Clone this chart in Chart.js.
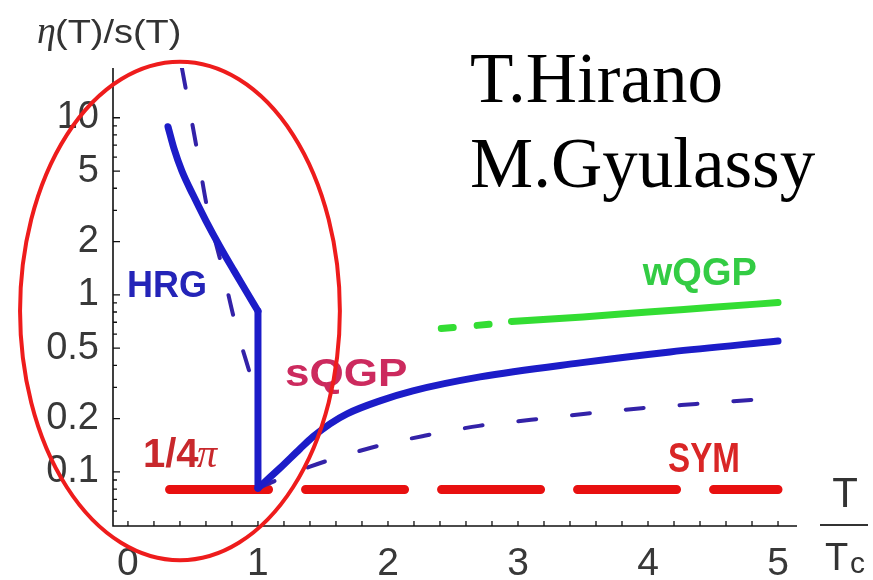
<!DOCTYPE html>
<html>
<head>
<meta charset="utf-8">
<script src="https://cdn.jsdelivr.net/npm/chart.js@4/dist/chart.umd.min.js"></script>
<style>
  html, body { margin: 0; padding: 0; background: #fff; }
  #wrap { width: 873px; height: 580px; }
</style>
</head>
<body>
<div id="wrap"><canvas id="chart" width="873" height="580"></canvas></div>
<script>
// eta/s as a function of T/Tc (log y axis)

// hadron resonance gas branch, then the drop at Tc
const hrgT   = [0.308, 0.354, 0.415, 0.50, 0.60, 0.708, 0.815, 0.908, 1.00];
const hrgEta = [8.9, 6.7, 5.0, 3.67, 2.62, 1.87, 1.37, 1.05, 0.81];
const dropT   = [1.0, 1.0];
const dropEta = [0.81, 0.081];

// strongly coupled QGP above Tc
const sqgpT   = [1.00, 1.169, 1.323, 1.423, 1.554, 1.685, 1.938, 2.192, 2.708, 3.477, 4.169, 5.00];
const sqgpEta = [0.081, 0.105, 0.135, 0.158, 0.187, 0.213, 0.252, 0.287, 0.344, 0.413, 0.476, 0.548];

// dashed blue curves (below / above Tc)
const hadT   = [0.415, 0.531, 0.608, 0.723, 0.823, 0.946];
const hadEta = [19.1, 6.6, 3.14, 1.44, 0.70, 0.344];
const pertT   = [1.0, 1.4, 1.87, 2.28, 2.7, 3.1, 3.52, 3.95, 4.37, 4.79, 5.0];
const pertEta = [0.081, 0.107, 0.137, 0.16, 0.182, 0.197, 0.213, 0.229, 0.242, 0.255, 0.262];

// weakly coupled QGP
const wqgpDashT   = [2.41, 2.86];
const wqgpDashEta = [0.645, 0.69];
const wqgpT   = [2.95, 3.5, 4.0, 4.5, 5.0];
const wqgpEta = [0.708, 0.75, 0.80, 0.85, 0.905];

// KSS bound 1/4pi
const kssT = [0.32, 5.0];
const KSS = 1 / (4 * Math.PI);

const xTickValues = [0, 1, 2, 3, 4, 5];
const yTickValues = [0.1, 0.2, 0.5, 1, 2, 5, 10];
const yMinorTicks = [0.06, 0.07, 0.08, 0.09, 0.3, 0.4, 0.6, 0.7, 0.8, 0.9, 3, 4, 6, 7, 8, 9];

const SANS = '"Liberation Sans", Arial, sans-serif';
const SERIF = '"Liberation Serif", "Times New Roman", serif';

function pts(xs, ys) {
  return xs.map((x, i) => ({ x, y: ys[i] }));
}

function line(data, color, width, extra) {
  return Object.assign({
    data, showLine: true, borderColor: color, borderWidth: width,
    pointRadius: 0, fill: false, borderCapStyle: 'round',
    cubicInterpolationMode: 'monotone'
  }, extra || {});
}

function drawText(ctx, str, x, y, font, color, sx) {
  ctx.save();
  ctx.font = font;
  ctx.fillStyle = color;
  ctx.textBaseline = 'alphabetic';
  ctx.textAlign = 'left';
  ctx.translate(x, y);
  ctx.scale(sx || 1, 1);
  ctx.fillText(str, 0, 0);
  ctx.restore();
}

// axis lines with inward ticks
const frame = {
  id: 'frame',
  beforeDatasetsDraw(chart) {
    const { ctx, chartArea: a, scales: { x, y } } = chart;
    ctx.save();
    ctx.strokeStyle = '#111';
    ctx.lineWidth = 1.6;
    ctx.beginPath();
    ctx.moveTo(a.left, a.top);
    ctx.lineTo(a.left, a.bottom);
    ctx.lineTo(a.right, a.bottom);
    ctx.stroke();

    ctx.lineWidth = 1.3;
    ctx.beginPath();
    for (let i = 0; i <= 25; i++) {
      const px = x.getPixelForValue(i * 0.2);
      ctx.moveTo(px, a.bottom);
      ctx.lineTo(px, a.bottom - 5);
    }
    yTickValues.forEach(v => {
      const py = y.getPixelForValue(v);
      ctx.moveTo(a.left, py);
      ctx.lineTo(a.left + 7, py);
    });
    yMinorTicks.forEach(v => {
      const py = y.getPixelForValue(v);
      ctx.moveTo(a.left, py);
      ctx.lineTo(a.left + 4, py);
    });
    ctx.stroke();
    ctx.restore();
  }
};

// region labels, axis titles, credits and the circled hadronic region
const notes = {
  id: 'notes',
  afterDatasetsDraw(chart) {
    const { ctx, scales: { x, y } } = chart;
    const at = (tx, ty) => [x.getPixelForValue(tx), y.getPixelForValue(ty)];

    let p = at(-0.008, 0.974);
    drawText(ctx, 'HRG', p[0], p[1], 'bold 36px ' + SANS, '#2424b8');
    p = at(1.208, 0.306);
    drawText(ctx, 'sQGP', p[0], p[1], 'bold 39px ' + SANS, '#cc2a5e', 1.13);
    p = at(3.96, 1.139);
    drawText(ctx, 'wQGP', p[0], p[1], 'bold 38px ' + SANS, '#33cc44');
    p = at(4.154, 0.1);
    drawText(ctx, 'SYM', p[0], p[1], 'bold 42px ' + SANS, '#d92626', 0.79);
    p = at(0.115, 0.107);
    drawText(ctx, '1/4', p[0], p[1], 'bold 40px ' + SANS, '#c8282c');
    drawText(ctx, 'π', p[0] + 54, p[1], 'italic 40px ' + SERIF, '#c8282c');

    // axis titles
    drawText(ctx, 'η', 37, 43, 'italic 38px ' + SERIF, '#333');
    drawText(ctx, '(T)/s(T)', 55, 43, '33px ' + SANS, '#333', 1.15);
    ctx.save();
    ctx.font = '42px ' + SANS;
    ctx.fillStyle = '#333';
    ctx.textAlign = 'center';
    ctx.fillText('T', 845, 507);
    ctx.restore();
    ctx.fillStyle = '#333';
    ctx.fillRect(820, 524, 48, 2);
    drawText(ctx, 'T', 825, 570, '38px ' + SANS, '#333');
    drawText(ctx, 'c', 850, 573, '30px ' + SANS, '#333');

    // credits
    drawText(ctx, 'T.Hirano', 470, 102, '71px ' + SERIF, '#000');
    drawText(ctx, 'M.Gyulassy', 470, 187, '71px ' + SERIF, '#000');

    // ellipse around the hadronic side
    const c = at(0.4, 0.81);
    const rx = c[0] - x.getPixelForValue(-0.83);
    const ry = c[1] - y.getPixelForValue(20.7);
    ctx.save();
    ctx.strokeStyle = '#ee1c1c';
    ctx.lineWidth = 4;
    ctx.beginPath();
    ctx.ellipse(c[0], c[1], rx, ry, 0, 0, Math.PI * 2);
    ctx.stroke();
    ctx.restore();
  }
};

const BLUE = '#1c1cc8';
const DASHBLUE = '#3322a8';

new Chart(document.getElementById('chart'), {
  type: 'scatter',
  data: {
    datasets: [
      line(pts(hrgT, hrgEta), BLUE, 7),
      line(pts(dropT, dropEta), BLUE, 7, { cubicInterpolationMode: 'default', tension: 0 }),
      line(pts(sqgpT, sqgpEta), BLUE, 7),
      line(pts(wqgpT, wqgpEta), '#33dd33', 7),
      line(pts(wqgpDashT, wqgpDashEta), '#33dd33', 7, { borderDash: [12, 24] }),
      line(pts(hadT, hadEta), DASHBLUE, 4, { borderDash: [20, 38] }),
      line(pts(pertT, pertEta), DASHBLUE, 4, { borderDash: [18, 36] }),
      line(pts(kssT, kssT.map(() => KSS)), '#e81010', 9, { borderDash: [99, 37], tension: 0 })
    ]
  },
  options: {
    responsive: false,
    animation: false,
    events: [],
    layout: { padding: { left: 0, top: 68, right: 76, bottom: 0 } },
    plugins: { legend: { display: false }, tooltip: { enabled: false } },
    scales: {
      x: {
        type: 'linear', min: -0.115, max: 5.146, bounds: 'data',
        afterFit: s => { s.height = 54; },
        afterBuildTicks: s => { s.ticks = xTickValues.map(v => ({ value: v })); },
        grid: { display: false }, border: { display: false },
        ticks: {
          autoSkip: false, maxRotation: 0, padding: 7, color: '#383838',
          font: { family: SANS, size: 39 }, callback: v => String(v)
        }
      },
      y: {
        type: 'logarithmic', min: 0.0495, max: 19.1, bounds: 'data',
        afterFit: s => { s.width = 113; },
        afterBuildTicks: s => { s.ticks = yTickValues.map(v => ({ value: v })); },
        grid: { display: false }, border: { display: false },
        ticks: {
          autoSkip: false, padding: 6, color: '#383838',
          font: { family: SANS, size: 38 }, callback: v => String(v)
        }
      }
    }
  },
  plugins: [frame, notes]
});
</script>
</body>
</html>
